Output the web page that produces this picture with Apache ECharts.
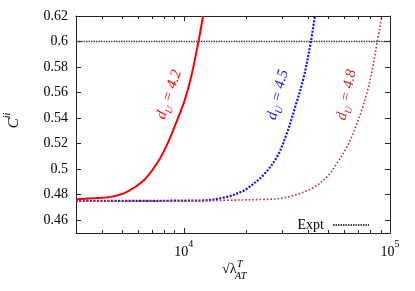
<!DOCTYPE html>
<html><head><meta charset="utf-8">
<script src="https://cdn.jsdelivr.net/npm/echarts@6/dist/echarts.min.js"></script>
<style>html,body{margin:0;padding:0;background:#fff}#c{width:415px;height:291px}</style>
</head><body><div id="c"></div>
<script>
// ---- data ----
const X_MIN = 3000, X_MAX = 100000, Y_MIN = 0.45, Y_MAX = 0.62;

const redX = [3000, 3600, 4400, 5300, 6400, 7400, 8250, 9200, 10100, 10900, 11750, 12400];
const redY = [0.4765, 0.4772, 0.4783, 0.4823, 0.4914, 0.5044, 0.5185, 0.5369, 0.5541, 0.5736, 0.5992, 0.6200];

const blueX = [3000, 6000, 9000, 12050, 16200, 18800, 20300, 24400, 28300, 31600, 34700, 38000, 41300, 43200];
const blueY = [0.4752, 0.4752, 0.4753, 0.4754, 0.4783, 0.4820, 0.4848, 0.4957, 0.5097, 0.5280, 0.5489, 0.5708, 0.5996, 0.6200];

const brownX = [3000, 10000, 16800, 24400, 29400, 35400, 42600, 49400, 55200, 61800, 67800, 73000, 77200, 81800, 86800, 91300];
const brownY = [0.4750, 0.4751, 0.4757, 0.4763, 0.4771, 0.4802, 0.4857, 0.4940, 0.5045, 0.5173, 0.5322, 0.5463, 0.5594, 0.5769, 0.5999, 0.6200];

const exptX = [3000, 100000];
const exptY = [0.6, 0.6];

const minorXTicks = [4000, 5000, 6000, 7000, 8000, 9000, 20000, 30000, 40000, 50000, 60000, 70000, 80000, 90000];

const seriesNames = ['dU42', 'dU45', 'dU48', 'Expt'];
const curveLabels = ['4.2', '4.5', '4.8'];
// label anchor points (data coords) and rotation
const labelAnchors = [[8626, 0.558, 71], [29040, 0.558, 76], [62660, 0.558, 78]];

// ---- chart ----
const FONT = '"Liberation Serif", "DejaVu Serif", serif';
const zip = (xs, ys) => xs.map((x, i) => [x, ys[i]]);
const AX = '#222';

function isPow10(v) { const l = Math.log10(v); return Math.abs(l - Math.round(l)) < 1e-6; }

function curveLabel(i, color) {
  const a = labelAnchors[i];
  return {
    symbol: 'none', silent: true,
    data: [{
      coord: [a[0], a[1]], symbol: 'circle', symbolSize: 0,
      label: {
        show: true, position: 'inside', rotate: a[2], color: color,
        formatter: '{d|d}{s|U}{t| = ' + curveLabels[i] + '}',
        rich: {
          d: { fontFamily: FONT, fontStyle: 'italic', fontSize: 15, lineHeight: 18, verticalAlign: 'top', color: color },
          s: { fontFamily: FONT, fontStyle: 'italic', fontSize: 10, lineHeight: 10, verticalAlign: 'bottom', color: color },
          t: { fontFamily: FONT, fontStyle: 'italic', fontSize: 15, lineHeight: 18, verticalAlign: 'top', color: color }
        }
      }
    }]
  };
}

const chart = echarts.init(document.getElementById('c'), null, { renderer: 'canvas' });
const axisCommon = {
  axisLine: { show: true, lineStyle: { color: AX, width: 1 } },
  splitLine: { show: false },
  axisTick: { show: true, inside: true, length: 5, lineStyle: { color: AX } }
};

chart.setOption({
  animation: false,
  backgroundColor: '#fff',
  grid: { left: 76, right: 25, top: 16, bottom: 58, containLabel: false, outerBoundsMode: 'none' },
  xAxis: [
    Object.assign({}, axisCommon, {
      type: 'log', logBase: 10, min: X_MIN, max: X_MAX, position: 'bottom',
      axisLabel: {
        show: true, margin: 6, showMinLabel: false,
        formatter: v => isPow10(v) ? '{b|10}{sup|' + Math.round(Math.log10(v)) + '}' : '',
        rich: {
          b: { fontFamily: FONT, fontSize: 14, lineHeight: 20, verticalAlign: 'bottom', color: '#000' },
          sup: { fontFamily: FONT, fontSize: 10, lineHeight: 10, verticalAlign: 'top', color: '#000' }
        }
      }
    }),
    Object.assign({}, axisCommon, {
      type: 'log', logBase: 10, min: X_MIN, max: X_MAX, position: 'top',
      axisLabel: { show: false }
    })
  ],
  yAxis: [
    Object.assign({}, axisCommon, {
      type: 'value', min: Y_MIN, max: Y_MAX, splitNumber: 8, position: 'left',
      axisLabel: {
        show: true, showMinLabel: false, margin: 8, color: '#000',
        fontFamily: FONT, fontSize: 14,
        formatter: v => String(parseFloat(v.toFixed(2)))
      },
      name: '{c|C}{sup|ii}', nameLocation: 'middle', nameRotate: 90, nameGap: 54,
      nameTextStyle: {
        padding: [0, 0, 0, 8],
        rich: {
          c: { fontFamily: FONT, fontStyle: 'italic', fontSize: 15, lineHeight: 20, verticalAlign: 'bottom', color: '#000' },
          sup: { fontFamily: FONT, fontStyle: 'italic', fontSize: 10, lineHeight: 10, verticalAlign: 'top', color: '#000' }
        }
      }
    }),
    Object.assign({}, axisCommon, {
      type: 'value', min: Y_MIN, max: Y_MAX, splitNumber: 8, position: 'right',
      axisLabel: { show: false }
    })
  ],
  legend: {
    data: [{ name: 'Expt', itemStyle: { opacity: 0 } }],
    right: 40, top: 213, align: 'right', itemWidth: 36, itemHeight: 10, itemGap: 4,
    textStyle: { fontFamily: FONT, fontSize: 14, color: '#000', padding: [0, 4, 0, 0] }, selectedMode: false
  },
  graphic: [{
    type: 'group', left: 222, top: 259,
    children: [
      { type: 'text', x: 0, y: 1, style: { text: '√λ', font: '14px ' + FONT, fill: '#000' } },
      { type: 'text', x: 13, y: 10, style: { text: 'AT', font: 'italic 10px ' + FONT, fill: '#000' } },
      { type: 'text', x: 15, y: -2, style: { text: 'T', font: 'italic 10px ' + FONT, fill: '#000' } }
    ]
  }],
  series: [
    {
      name: seriesNames[0], type: 'line', data: zip(redX, redY), symbol: 'none', smooth: 0.35,
      lineStyle: { color: '#ff0000', width: 2 }, itemStyle: { color: '#ff0000' },
      markPoint: curveLabel(0, '#ff0000'), z: 3
    },
    {
      name: seriesNames[1], type: 'line', data: zip(blueX, blueY), symbol: 'none', smooth: 0.35,
      lineStyle: { color: '#1010ff', width: 2.2, type: [2, 1.5] }, itemStyle: { color: '#1010ff' },
      markPoint: curveLabel(1, '#1010ff'), z: 3
    },
    {
      name: seriesNames[2], type: 'line', data: zip(brownX, brownY), symbol: 'none', smooth: 0.35,
      lineStyle: { color: '#b83030', width: 1.6, type: [1.6, 2] }, itemStyle: { color: '#b83030' },
      markPoint: curveLabel(2, '#b83030'), z: 3
    },
    {
      name: seriesNames[3], type: 'line', data: zip(exptX, exptY), symbol: 'none', showSymbol: false,
      lineStyle: { color: '#444', width: 1.5, type: [1.5, 1] }, itemStyle: { color: '#444' }, z: 2
    },
    {
      type: 'custom', silent: true, clip: false, z: 5,
      data: minorXTicks.map(v => [v, Y_MIN]),
      renderItem: function (params, api) {
        const v = api.value(0);
        const b = api.coord([v, Y_MIN]);
        const t = api.coord([v, Y_MAX]);
        const x = Math.round(b[0]) + 0.5;
        return {
          type: 'group', children: [
            { type: 'line', shape: { x1: x, y1: b[1], x2: x, y2: b[1] - 3 }, style: { stroke: AX, lineWidth: 1 } },
            { type: 'line', shape: { x1: x, y1: t[1], x2: x, y2: t[1] + 3 }, style: { stroke: AX, lineWidth: 1 } }
          ]
        };
      }
    }
  ]
});
</script></body></html>
